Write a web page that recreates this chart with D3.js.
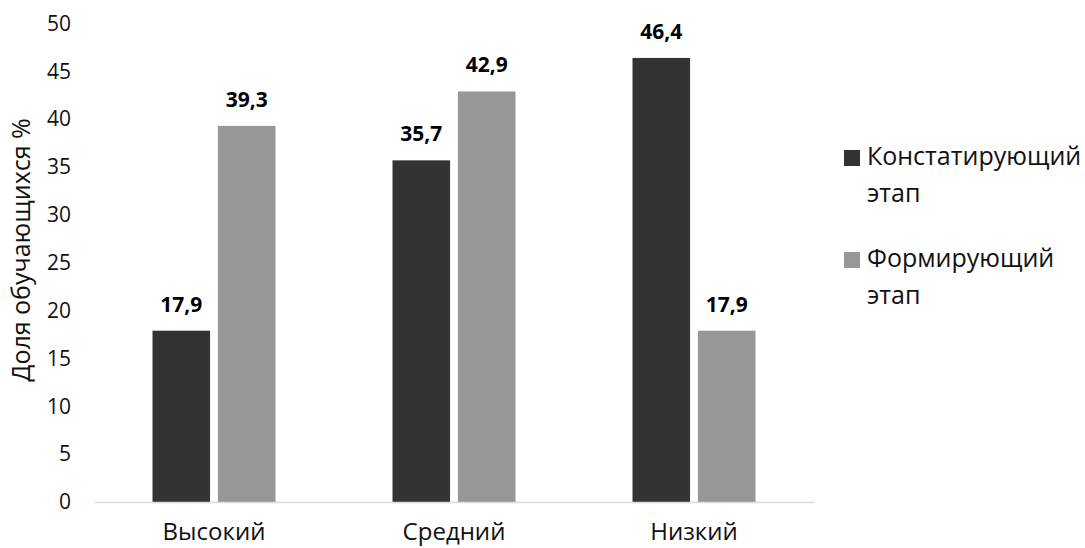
<!DOCTYPE html>
<html>
<head>
<meta charset="utf-8">
<script src="https://cdn.jsdelivr.net/npm/d3@7"></script>
<style>
  body { margin: 0; background: #fff; }
  svg { display: block; font-family: "Open Sans", sans-serif; }
</style>
</head>
<body>
<svg id="chart" width="1085" height="548"></svg>
<script>
// Levels and the share of students at each stage
const categories = ["Высокий", "Средний", "Низкий"];
const seriesNames = ["Констатирующий этап", "Формирующий этап"];
const stageAscertaining = [17.9, 35.7, 46.4];
const stageForming = [39.3, 42.9, 17.9];
const yTicks = [0, 5, 10, 15, 20, 25, 30, 35, 40, 45, 50];
const yTitle = "Доля обучающихся %";

const colors = ["#333333", "#979797"];
const svg = d3.select("#chart");

const plot = { left: 94, right: 814, top: 23.5, bottom: 502 };

const x = d3.scaleBand().domain(categories).range([plot.left, plot.right]).paddingInner(0).paddingOuter(0);
const x1 = d3.scaleBand().domain([0, 1]).range([0, 123]).paddingInner(0.12);
const y = d3.scaleLinear().domain([0, 50]).range([plot.bottom, plot.top]);

const series = [stageAscertaining, stageForming];
const barX = (i, s) => x(categories[i]) + x.bandwidth() / 2 - 61.5 + x1(s);

// bars with value labels
series.forEach((vals, s) => {
  const g = svg.append("g");
  g.selectAll("rect").data(vals).join("rect")
    .attr("x", (d, i) => barX(i, s))
    .attr("y", d => y(d))
    .attr("width", x1.bandwidth())
    .attr("height", d => y(0) - y(d))
    .attr("fill", colors[s]);
  g.selectAll("text").data(vals).join("text")
    .attr("x", (d, i) => barX(i, s) + x1.bandwidth() / 2)
    .attr("y", d => y(d) - 19)
    .attr("text-anchor", "middle")
    .attr("font-size", 21)
    .attr("font-weight", "bold")
    .attr("fill", "#000")
    .text(d => d.toFixed(1).replace(".", ","));
});

// x axis
const xAxis = svg.append("g").attr("transform", `translate(0,${plot.bottom})`)
  .call(d3.axisBottom(x).tickSize(0).tickPadding(21));
xAxis.select(".domain").attr("stroke", "#d9d9d9").attr("stroke-width", 1.5);
xAxis.selectAll("text").attr("font-size", 24).attr("fill", "#111").attr("font-family", "Open Sans, sans-serif");

// y axis
const yAxis = svg.append("g").attr("transform", `translate(${plot.left},0)`)
  .call(d3.axisLeft(y).tickValues(yTicks).tickSize(0).tickPadding(23));
yAxis.select(".domain").remove();
yAxis.selectAll("text").attr("font-size", 21).attr("fill", "#111").attr("font-family", "Open Sans, sans-serif");

svg.append("text")
  .attr("transform", `translate(30,250) rotate(-90)`)
  .attr("text-anchor", "middle")
  .attr("font-size", 25)
  .attr("fill", "#111")
  .text(yTitle);

// legend
const legend = svg.append("g");
seriesNames.forEach((name, i) => {
  const base = 165 + i * 102;
  legend.append("rect").attr("x", 844).attr("y", base - 15).attr("width", 16).attr("height", 16).attr("fill", colors[i]);
  name.split(" ").forEach((w, j) => {
    legend.append("text")
      .attr("x", 867).attr("y", base + j * 37)
      .attr("font-size", 25)
      .attr("fill", "#111")
      .text(w);
  });
});
</script>
</body>
</html>
